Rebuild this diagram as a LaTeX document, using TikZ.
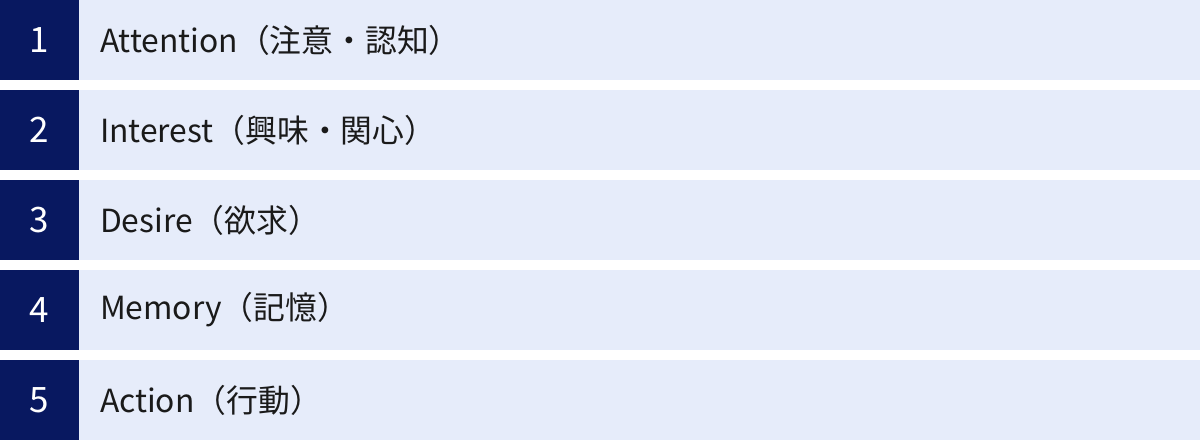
\documentclass[tikz,border=0pt]{standalone}
\usepackage{fontspec}
\setmainfont{Noto Sans CJK JP}
\usetikzlibrary{positioning}

\definecolor{stepnavy}{RGB}{8,24,96}
\definecolor{steplight}{RGB}{230,236,250}
\definecolor{steptext}{RGB}{26,26,26}

\tikzstyle{number}=[rectangle, minimum width=79pt, minimum height=80pt, inner sep=0pt, outer sep=0pt, fill=stepnavy, text=white, font=\fontsize{35}{40}\selectfont]
\tikzstyle{stage}=[rectangle, minimum width=1121pt, minimum height=80pt, text width=1100pt, inner xsep=21pt, inner ysep=0pt, outer sep=0pt, align=left, fill=steplight, text=steptext, font=\fontsize{31.8}{36}\selectfont]

\begin{document}
\begin{tikzpicture}[x=1pt, y=1pt, node distance=90pt]
\useasboundingbox (0,0) rectangle (1200,-441);

\node(n1)[number] at (39.5,-40){1};
\node(n2)[number, below of=n1]{2};
\node(n3)[number, below of=n2]{3};
\node(n4)[number, below of=n3]{4};
\node(n5)[number, below of=n4]{5};

\node(t1)[stage, right=0pt of n1]{Attention（注意・認知）};
\node(t2)[stage, right=0pt of n2]{Interest（興味・関心）};
\node(t3)[stage, right=0pt of n3]{Desire（欲求）};
\node(t4)[stage, right=0pt of n4]{Memory（記憶）};
\node(t5)[stage, right=0pt of n5]{Action（行動）};

\end{tikzpicture}
\end{document}
